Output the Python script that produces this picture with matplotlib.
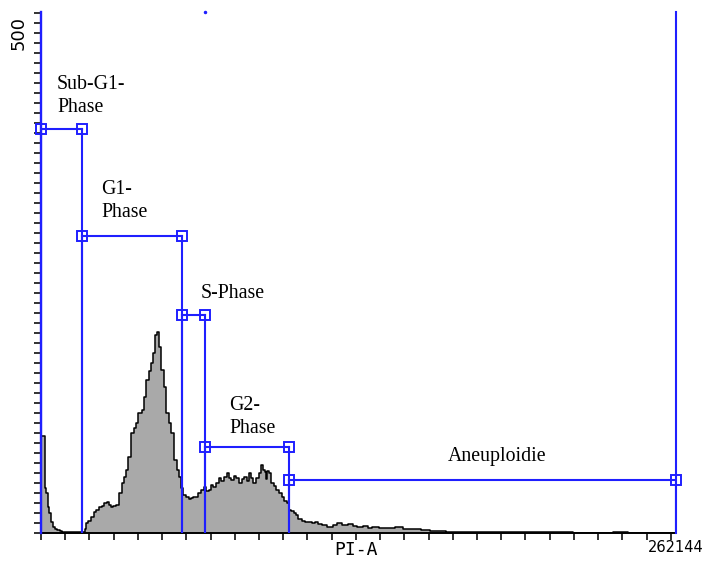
import matplotlib
matplotlib.use('Agg')
import matplotlib.pyplot as plt
from matplotlib.ticker import MultipleLocator, FixedLocator

# PI-A channel and event counts
pi_a = [0, 400, 1200, 1700, 2500, 2900, 3700, 4500, 5000, 6200,
        7000, 8300, 9100, 12000, 14400, 16900, 17800, 18200, 19000, 19800,
        21100, 22300, 23500, 24400, 25600, 26400, 27700, 28500, 29300, 30500,
        31400, 32600, 33900, 34700, 35500, 36700, 38000, 38800, 39600, 40900,
        42100, 42900, 44200, 45000, 45800, 46600, 47500, 48300, 49100, 50000,
        51200, 52400, 53300, 54100, 55300, 56600, 57400, 58200, 59400, 60300,
        61500, 62300, 63600, 64400, 65600, 66500, 67700, 68500, 69800, 70600,
        71800, 72700, 73900, 74700, 76000, 77200, 78000, 78900, 80100, 80900,
        82200, 83400, 84200, 85500, 86300, 87100, 88300, 89200, 90400, 91200,
        92100, 92500, 93300, 93700, 94500, 95800, 96600, 97800, 98700, 99900,
        101100, 102000, 102800, 103600, 104900, 105700, 106900, 108200, 109800, 111100,
        112300, 113900, 115200, 117200, 119300, 121400, 123400, 125500, 127600, 129600,
        131700, 133800, 135800, 137900, 141200, 144100, 148200, 150300, 152300, 155200,
        158500, 162700, 166000, 168800, 177100, 189500, 201900, 214300, 218400, 220500,
        230800, 241100, 243200, 262144]
counts = [60, 97, 97, 45, 40, 26, 20, 11, 6, 4,
          3, 2, 1, 1, 1, 1, 1, 4, 10, 12,
          16, 21, 23, 26, 27, 30, 31, 28, 26, 27,
          28, 40, 50, 56, 63, 76, 100, 105, 110, 120,
          123, 136, 153, 162, 170, 180, 198, 201, 186, 163,
          146, 120, 110, 100, 73, 63, 56, 45, 38, 36,
          34, 35, 36, 36, 40, 43, 46, 42, 43, 48,
          46, 50, 55, 52, 56, 60, 55, 53, 57, 55,
          50, 54, 56, 52, 60, 55, 50, 55, 60, 68,
          63, 61, 54, 62, 60, 50, 47, 43, 40, 36,
          32, 30, 23, 22, 20, 18, 14, 12, 11, 11,
          10, 11, 9, 8, 6, 8, 10, 8, 9, 7,
          6, 7, 5, 6, 5, 5, 6, 4, 4, 4,
          3, 2, 2, 1, 1, 1, 1, 1, 1, 0,
          0, 1, 0, 0]

# range gates
gate_names = ['Sub-G1-\nPhase', 'G1-\nPhase', 'S-Phase', 'G2-\nPhase', 'Aneuploidie']
gate_lo = [0, 16900, 58200, 67700, 102400]
gate_hi = [16900, 58200, 67700, 102400, 262144]
gate_level = [404, 297, 218, 86, 53]

# label anchor points (PI-A, count)
label_x = [6600, 24800, 66100, 77600, 188200]
label_y = [437, 332, 239, 116, 77]
label_ha = ['left', 'left', 'left', 'left', 'center']

x_max = 262144
y_max = 521
blue = '#1f1fff'

fig = plt.figure(figsize=(7.08, 5.66), dpi=100)
ax = fig.add_axes([41 / 708, 33 / 566, 635 / 708, 521 / 566])

ax.fill_between(pi_a, counts, step='mid', color='#a9a9a9', lw=0)
ax.plot(pi_a, counts, drawstyle='steps-mid', color='black', lw=1.1)

# gates
for lo, hi, lvl in zip(gate_lo, gate_hi, gate_level):
    ax.plot([lo, hi], [lvl, lvl], color=blue, lw=1.5, zorder=4)
    ax.plot([lo, lo], [0, lvl], color=blue, lw=1.5, zorder=4)
    ax.plot([hi, hi], [0, lvl], color=blue, lw=1.5, zorder=4)
    ax.plot([lo, hi], [lvl, lvl], ls='none', marker='s', ms=7, mfc='none',
            mec=blue, mew=1.4, zorder=5, clip_on=False)
# outer gate edges run up to the top
ax.plot([gate_lo[0], gate_lo[0]], [0, y_max], color=blue, lw=1.7, zorder=4, clip_on=False)
ax.plot([gate_hi[-1], gate_hi[-1]], [0, y_max], color=blue, lw=1.5, zorder=4, clip_on=False)
# small blue dot at the top edge above the S-phase gate
ax.plot([gate_hi[2]], [y_max], ls='none', marker='o', ms=1.5, color=blue, clip_on=False)

for name, tx, ty, ha in zip(gate_names, label_x, label_y, label_ha):
    ax.text(tx, ty, name, ha=ha, va='center', fontsize=14.3,
            family='Liberation Serif', linespacing=1.3)

ax.set_xlim(0, x_max)
ax.set_ylim(0, y_max)

for side in ['top', 'right']:
    ax.spines[side].set_visible(False)
ax.spines['left'].set_linewidth(1.4)
ax.spines['bottom'].set_linewidth(1.4)

ax.xaxis.set_major_locator(FixedLocator([]))
ax.xaxis.set_minor_locator(MultipleLocator(10000))
ax.yaxis.set_major_locator(FixedLocator([500]))
ax.yaxis.set_minor_locator(MultipleLocator(10))
ax.tick_params(which='both', direction='out', length=5, width=1.3, color='#222222')
ax.set_yticklabels(['500'], rotation=90, va='center', fontsize=13)
ax.tick_params(axis='y', which='major', pad=5)

ax.text(130000, -17, 'PI-A', ha='center', va='center',
        family='DejaVu Sans Mono', fontsize=13, clip_on=False)
ax.text(x_max, -14, '262144', ha='center', va='center', fontsize=10.5, clip_on=False)

fig.savefig('out.png', dpi=100)
